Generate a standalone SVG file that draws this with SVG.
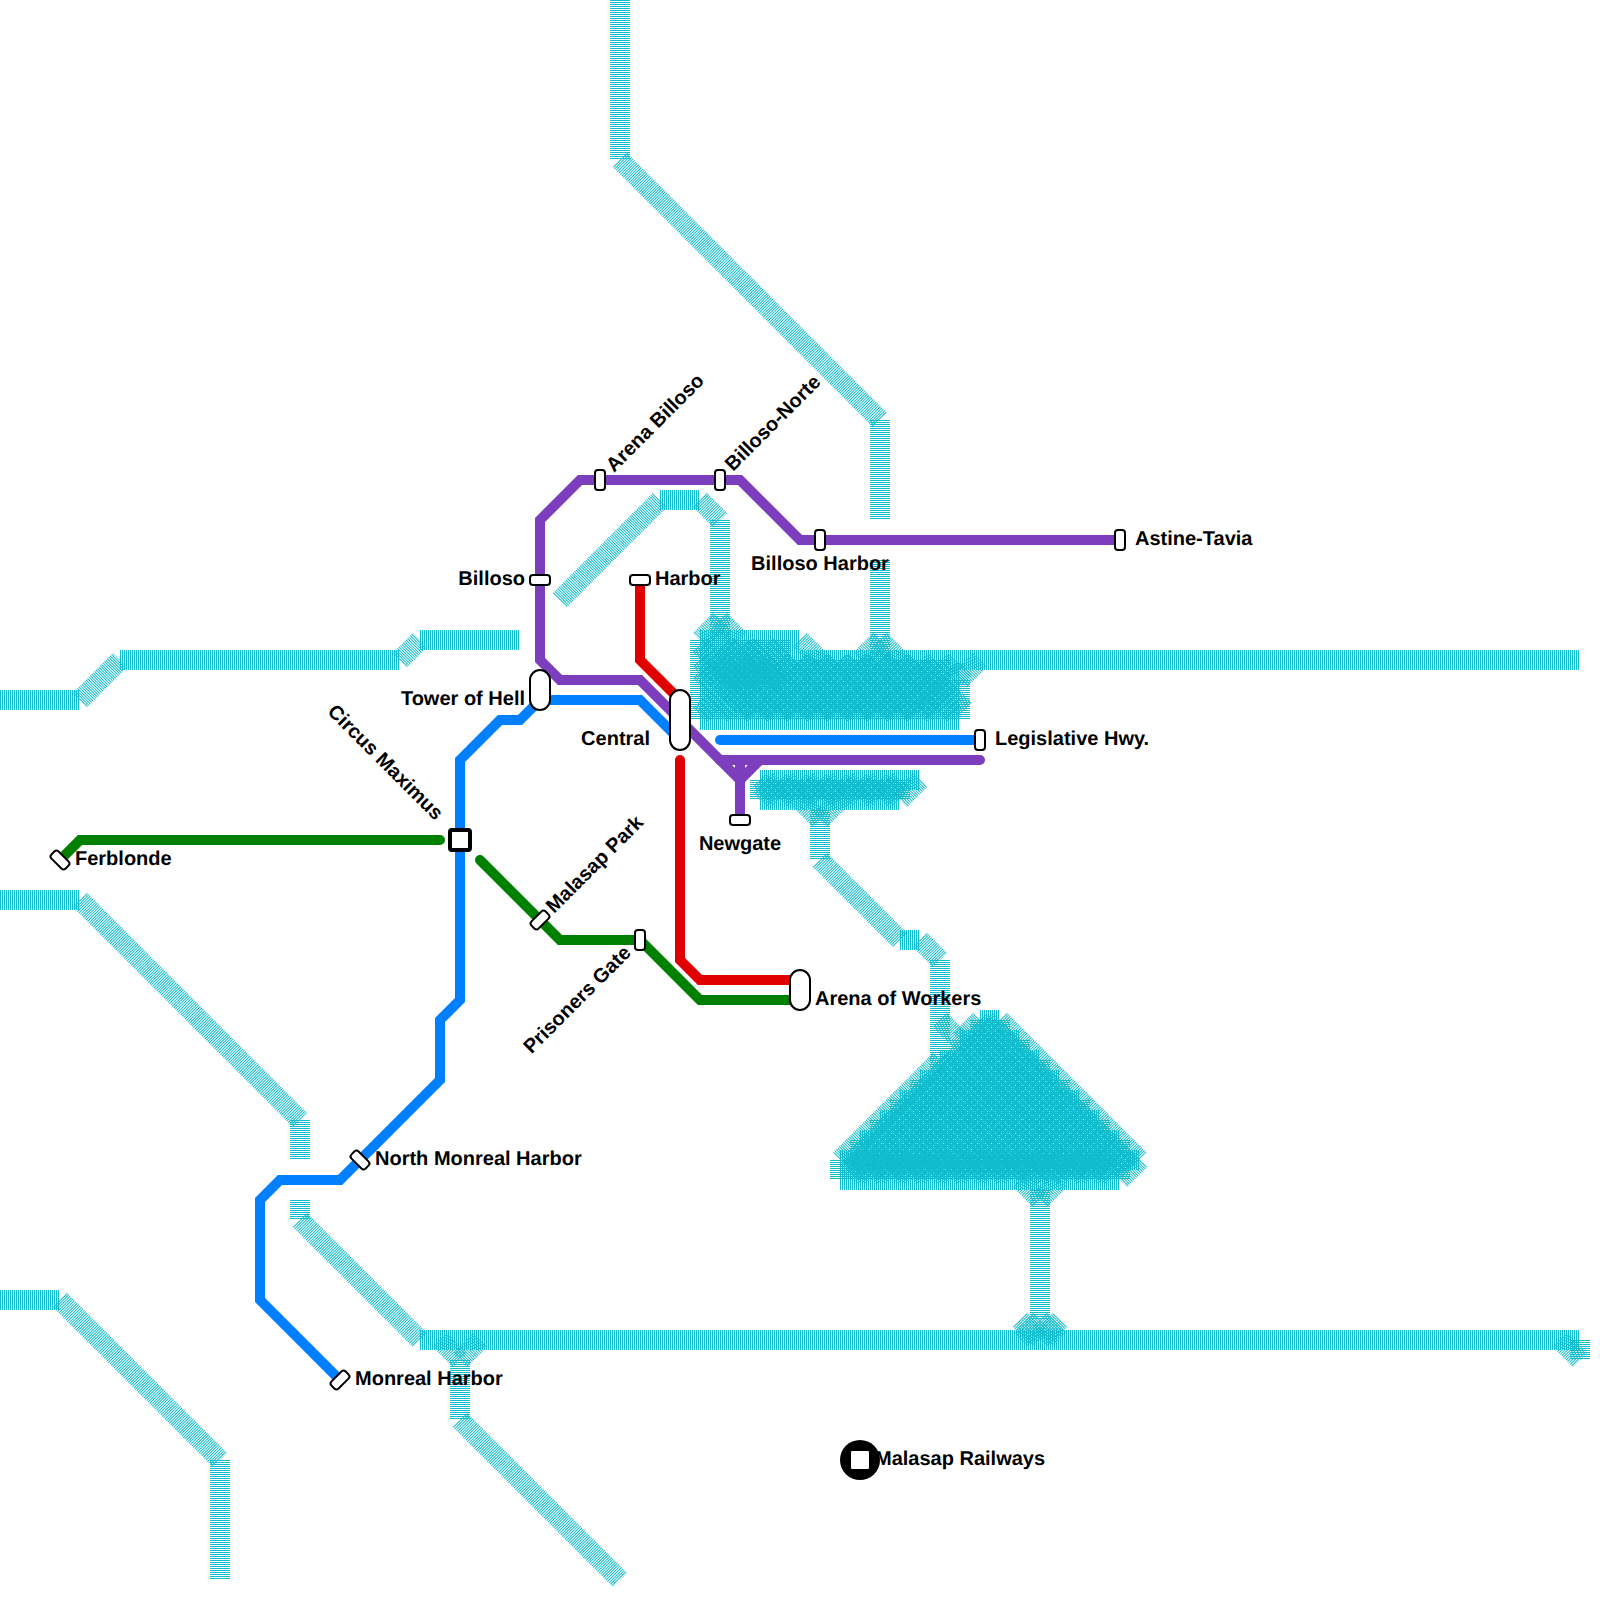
<svg xmlns="http://www.w3.org/2000/svg" width="1600" height="1600" viewBox="0 0 1600 1600">
<style>
.w{fill:none;stroke:#12bccc;stroke-width:20;stroke-dasharray:1 1;stroke-linejoin:miter}
.l{fill:none;stroke-width:10;stroke-linejoin:miter;stroke-linecap:round}
.b{stroke:#0080ff}.g{stroke:#008000}.r{stroke:#e00000}.p{stroke:#7c3ebc}
.s{fill:#fff;stroke:#000;stroke-width:2}
text{font-family:"Liberation Sans",Arial,sans-serif;font-weight:bold;font-size:20px;fill:#000;text-rendering:geometricPrecision}
.e{text-anchor:end}.m{text-anchor:middle}
</style>
<rect width="1600" height="1600" fill="#fff"/>
<g id="water">
<path class="w" d="M620 0V160"/><path class="w" d="M620 160L880 420"/><path class="w" d="M880 420V520"/>
<path class="w" d="M880 560V640"/>
<path class="w" d="M0 700H80"/><path class="w" d="M80 700L120 660"/><path class="w" d="M120 660H400"/><path class="w" d="M400 660L420 640"/><path class="w" d="M420 640H520"/>
<path class="w" d="M560 600L660 500"/><path class="w" d="M660 500H700"/><path class="w" d="M700 500L720 520"/><path class="w" d="M720 520V620"/>
<path class="w" d="M980 660H1580"/><path class="w" d="M980 660L960 680"/>
<path class="w" d="M0 900H80"/><path class="w" d="M80 900L300 1120"/><path class="w" d="M300 1120V1160"/>
<path class="w" d="M300 1200V1220"/><path class="w" d="M300 1220L420 1340"/>
<path class="w" d="M420 1340H1580"/><path class="w" d="M440 1340L460 1360"/><path class="w" d="M480 1340L460 1360"/><path class="w" d="M460 1360V1420"/><path class="w" d="M460 1420L620 1580"/>
<path class="w" d="M1560 1340L1580 1360"/><path class="w" d="M1580 1340V1360"/>
<path class="w" d="M0 1300H60"/><path class="w" d="M60 1300L220 1460"/><path class="w" d="M220 1460V1580"/>
<path class="w" d="M820 810V860"/><path class="w" d="M800 800L820 820"/><path class="w" d="M840 800L820 820"/><path class="w" d="M820 860L900 940"/><path class="w" d="M900 940H920"/><path class="w" d="M920 940L940 960"/><path class="w" d="M940 960V1060"/>
<path class="w" d="M1040 1190V1320"/><path class="w" d="M1020 1180L1040 1200"/><path class="w" d="M1060 1180L1040 1200"/><path class="w" d="M1040 1320L1020 1340"/><path class="w" d="M1040 1320L1060 1340"/><path class="w" d="M1020 1320L1040 1340"/><path class="w" d="M1060 1320L1040 1340"/>
</g>
<g id="lake-north">
<path class="w" d="M700 640H800M700 660H980M700 680H960M700 700H960M700 720H960"/>
<path class="w" d="M700 640V720M720 620V720M740 640V720M760 640V720M780 640V720M800 660V720M820 660V720M840 660V720M860 660V720M880 640V720M900 660V720M920 660V720M940 660V720M960 680V720"/>
<path class="w" d="M720 620L700 640"/><path class="w" d="M720 620L740 640"/><path class="w" d="M800 640L820 660"/><path class="w" d="M880 640L860 660"/><path class="w" d="M880 640L900 660"/>
<path class="w" d="M700 645L740 685M740 645L780 685M720 645L760 685"/>
<path class="w" d="M740 645L700 685M780 645L740 685M760 645L720 685"/>
<path class="w" d="M700 660L755 715M740 660L795 715M780 660L835 715M820 660L875 715M860 660L915 715M900 660L955 715M920 665L965 710"/>
<path class="w" d="M755 660L700 715M795 660L740 715M835 660L780 715M875 660L820 715M915 660L860 715M955 660L900 715M965 668L922 711"/>
<path class="w" d="M720 660L775 715M760 660L815 715M800 660L855 715M840 660L895 715M880 660L935 715"/>
<path class="w" d="M775 660L720 715M815 660L760 715M855 660L800 715M895 660L840 715M935 660L880 715"/>
</g>
<g id="lake-middle">
<path class="w" d="M760 780H920M760 800H900"/>
<path class="w" d="M760 780V800M780 780V800M800 780V800M820 780V800M840 780V800M860 780V800M880 780V800M900 780V800"/>
<path class="w" d="M920 780L900 800"/>
<path class="w" d="M760 780L780 800M800 780L820 800M840 780L860 800M880 780L900 800"/>
<path class="w" d="M780 780L760 800M820 780L800 800M860 780L840 800M900 780L880 800"/>
<path class="w" d="M780 780L800 800M820 780L840 800M860 780L880 800"/>
<path class="w" d="M800 780L780 800M840 780L820 800M880 780L860 800"/>
</g>
<g id="lake-south">
<path class="w" d="M980 1020H1000M960 1040H1020M940 1060H1040M920 1080H1060M900 1100H1080M880 1120H1100M860 1140H1120M840 1160H1140M840 1180H1120"/>
<path class="w" d="M840 1160V1180M860 1140V1180M880 1120V1180M900 1100V1180M920 1080V1180M940 1060V1180M960 1040V1180M980 1020V1180M1000 1020V1180M1020 1040V1180M1040 1060V1180M1060 1080V1180M1080 1100V1180M1100 1120V1180M1120 1140V1180"/>
<path class="w" d="M940 1060L840 1160"/><path class="w" d="M1000 1020L1140 1160"/><path class="w" d="M940 1020L960 1040"/><path class="w" d="M980 1020L960 1040"/><path class="w" d="M1140 1160L1120 1180"/>
<path class="w" d="M970 1030L1110 1170M950 1050L1070 1170M930 1070L1030 1170M910 1090L990 1170M890 1110L950 1170M870 1130L910 1170M850 1150L870 1170"/>
<path class="w" d="M980 1020L1130 1170M960 1040L1090 1170M940 1060L1050 1170M920 1080L1010 1170M900 1100L970 1170M880 1120L930 1170M860 1140L890 1170"/>
<path class="w" d="M1010 1030L870 1170M1030 1050L910 1170M1050 1070L950 1170M1070 1090L990 1170M1090 1110L1030 1170M1110 1130L1070 1170M1130 1150L1110 1170"/>
<path class="w" d="M1000 1020L850 1170M1020 1040L890 1170M1040 1060L930 1170M1060 1080L970 1170M1080 1100L1010 1170M1100 1120L1050 1170M1120 1140L1090 1170"/>
<path class="w" d="M850 1155L873 1178M890 1155L913 1178M930 1155L953 1178M970 1155L993 1178M1010 1155L1033 1178M1050 1155L1073 1178M1090 1155L1113 1178"/>
<path class="w" d="M873 1155L850 1178M913 1155L890 1178M953 1155L930 1178M993 1155L970 1178M1033 1155L1010 1178M1073 1155L1050 1178M1113 1155L1090 1178"/>
<path class="w" d="M870 1155L893 1178M910 1155L933 1178M950 1155L973 1178M990 1155L1013 1178M1030 1155L1053 1178M1070 1155L1093 1178"/>
<path class="w" d="M893 1155L870 1178M933 1155L910 1178M973 1155L950 1178M1013 1155L990 1178M1053 1155L1030 1178M1093 1155L1070 1178"/>
</g>
<g id="connectors">
<path class="l g" d="M60 860L80 840H440"/>
<path class="l g" d="M480 860L560 940H640L700 1000H800"/>
<path class="l r" d="M640 580V660L680 700"/>
<path class="l r" d="M680 760V960L700 980H800"/>
<path class="l b" d="M340 1380L260 1300V1200L280 1180H340L440 1080V1020L460 1000V760L500 720H520L540 700H640L680 740"/>
<path class="l b" d="M720 740H980"/>
<path class="l p" d="M1120 540H800L740 480H580L540 520V660L560 680H640L720 760H980"/>
<path class="l p" d="M720 760L740 780"/>
<path class="l p" d="M740 760V820"/>
<path class="l p" d="M740 780L760 760"/>
</g>
<g id="st-astine"><rect class="s" x="1115" y="530" width="10" height="20" rx="3"/><text x="1135" y="545">Astine-Tavia</text></g>
<g id="st-billoso-harbor"><rect class="s" x="815" y="530" width="10" height="20" rx="3"/><text class="m" x="820" y="570">Billoso Harbor</text></g>
<g id="st-billoso-norte"><rect class="s" x="715" y="470" width="10" height="20" rx="3"/><text transform="translate(733 472) rotate(-45)">Billoso-Norte</text></g>
<g id="st-arena-billoso"><rect class="s" x="595" y="470" width="10" height="20" rx="3"/><text transform="translate(614 473) rotate(-45)">Arena Billoso</text></g>
<g id="st-billoso"><rect class="s" x="530" y="575" width="20" height="10" rx="3"/><text class="e" x="525" y="585">Billoso</text></g>
<g id="st-harbor"><rect class="s" x="630" y="575" width="20" height="10" rx="3"/><text x="655" y="585">Harbor</text></g>
<g id="st-tower"><rect class="s" x="530" y="670" width="20" height="40" rx="10"/><text class="e" x="525" y="705">Tower of Hell</text></g>
<g id="st-central"><rect class="s" x="670" y="690" width="20" height="60" rx="10"/><text class="e" x="650" y="745">Central</text></g>
<g id="st-legislative"><rect class="s" x="975" y="730" width="10" height="20" rx="3"/><text x="995" y="745">Legislative Hwy.</text></g>
<g id="st-newgate"><rect class="s" x="730" y="815" width="20" height="10" rx="3"/><text class="m" x="740" y="850">Newgate</text></g>
<g id="st-circus"><rect x="450" y="830" width="20" height="20" rx="2" fill="#fff" stroke="#000" stroke-width="4"/><text class="e" transform="translate(435 821) rotate(45)">Circus Maximus</text></g>
<g id="st-ferblonde"><rect class="s" x="50" y="855" width="20" height="10" rx="3" transform="rotate(45 60 860)"/><text x="75" y="865">Ferblonde</text></g>
<g id="st-malasap"><rect class="s" x="530" y="915" width="20" height="10" rx="3" transform="rotate(-45 540 920)"/><text transform="translate(554 914) rotate(-45)">Malasap Park</text></g>
<g id="st-prisoners"><rect class="s" x="635" y="930" width="10" height="20" rx="3"/><text class="e" transform="translate(632 954) rotate(-45)">Prisoners Gate</text></g>
<g id="st-arena-workers"><rect class="s" x="790" y="970" width="20" height="40" rx="10"/><text x="815" y="1005">Arena of Workers</text></g>
<g id="st-north-monreal"><rect class="s" x="350" y="1155" width="20" height="10" rx="3" transform="rotate(45 360 1160)"/><text x="375" y="1165">North Monreal Harbor</text></g>
<g id="st-monreal"><rect class="s" x="330" y="1375" width="20" height="10" rx="3" transform="rotate(-45 340 1380)"/><text x="355" y="1385">Monreal Harbor</text></g>
<g id="logo"><circle cx="860" cy="1460" r="20" fill="#000"/><rect class="s" x="850" y="1450" width="20" height="20" rx="2"/><text x="875" y="1465">Malasap Railways</text></g>
</svg>
